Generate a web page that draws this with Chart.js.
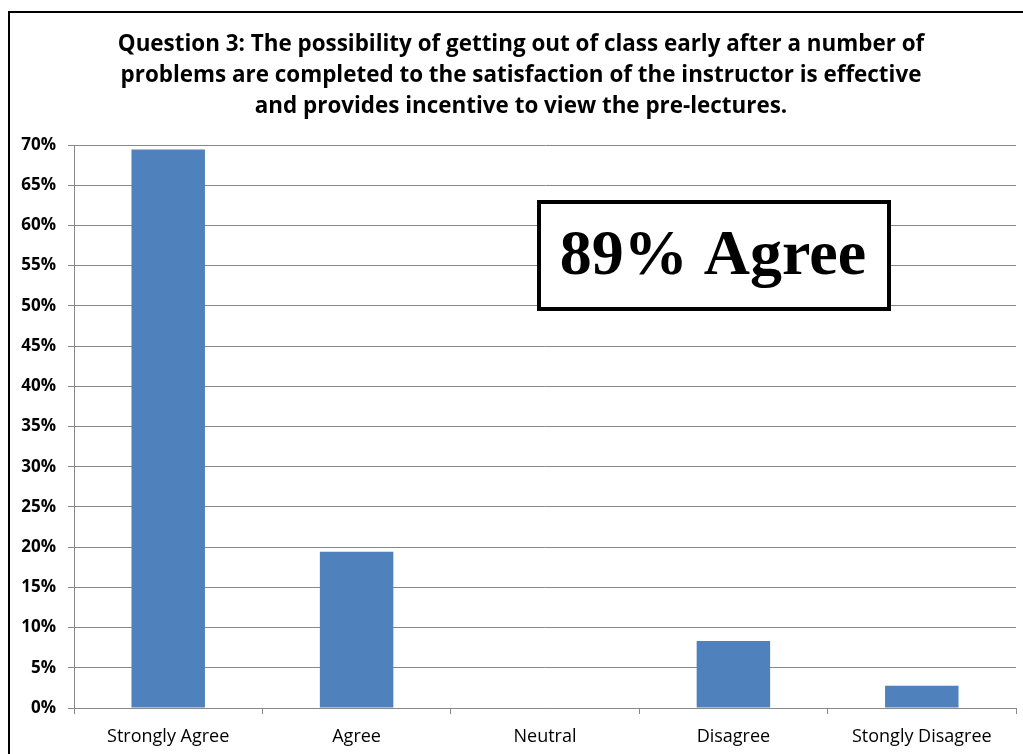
<!DOCTYPE html>
<html>
<head>
<meta charset="utf-8">
<script src="https://cdn.jsdelivr.net/npm/chart.js@4.4.1/dist/chart.umd.min.js"></script>
<style>
html,body{margin:0;padding:0;background:#fff;}
#wrap{width:1023px;height:754px;position:relative;}
</style>
</head>
<body>
<div id="wrap"><canvas id="c" width="1023" height="754"></canvas></div>
<script>
const categories = ["Strongly Agree", "Agree", "Neutral", "Disagree", "Stongly Disagree"];
const percentValues = [69.44, 19.44, 0, 8.33, 2.78];
const titleLines = [
  "Question 3: The possibility of getting out of class early after a number of",
  "problems are completed to the satisfaction of the instructor is effective",
  "and provides incentive to view the pre-lectures."
];
const calloutText = "89% Agree";
const FONT = '"Open Sans", Lato, sans-serif';

const decorPlugin = {
  id: 'decor',
  beforeDraw(chart) {
    const ctx = chart.ctx;
    ctx.save();
    ctx.fillStyle = '#fff';
    ctx.fillRect(0, 0, chart.width, chart.height);
    ctx.strokeStyle = '#000';
    ctx.lineWidth = 2;
    ctx.strokeRect(9, 12, chart.width + 20, chart.height + 20);
    ctx.restore();
  },
  afterDraw(chart) {
    const ctx = chart.ctx;
    ctx.save();
    // title
    let size = 22;
    ctx.font = 'bold ' + size + 'px ' + FONT;
    const w = ctx.measureText(titleLines[0]).width;
    size = size * 807 / w;
    ctx.font = 'bold ' + size.toFixed(2) + 'px ' + FONT;
    ctx.fillStyle = '#000';
    ctx.textAlign = 'center';
    ctx.textBaseline = 'middle';
    const ys = [45, 76, 107];
    titleLines.forEach((t, i) => ctx.fillText(t, 521, ys[i]));
    // callout box
    ctx.fillStyle = '#fff';
    ctx.fillRect(539, 202, 350, 107);
    ctx.strokeStyle = '#000';
    ctx.lineWidth = 4;
    ctx.strokeRect(539, 202, 350, 107);
    ctx.fillStyle = '#000';
    ctx.font = 'bold 64px "Liberation Serif", "Times New Roman", serif';
    ctx.fillText(calloutText, 713, 257);
    ctx.restore();
  }
};

new Chart(document.getElementById('c'), {
  type: 'bar',
  data: {
    labels: categories,
    datasets: [{
      data: percentValues,
      backgroundColor: '#4F81BD',
      borderWidth: 0,
      categoryPercentage: 1,
      barPercentage: 0.39
    }]
  },
  plugins: [decorPlugin],
  options: {
    responsive: false,
    animation: false,
    devicePixelRatio: 1,
    layout: { padding: { left: 10, right: 7, top: 145, bottom: 0 } },
    plugins: {
      legend: { display: false },
      tooltip: { enabled: false },
      title: { display: false }
    },
    scales: {
      x: {
        grid: { display: true, drawOnChartArea: false, drawTicks: true, tickLength: 6, color: '#888', offset: true },
        border: { display: true, color: '#888', width: 1 },
        ticks: { color: '#000', font: { family: FONT, size: 18 }, padding: 12, maxRotation: 0, autoSkip: false },
        afterFit(scale) { scale.height = 46; }
      },
      y: {
        min: 0,
        max: 70,
        grid: { color: '#888', tickLength: 6, drawTicks: true },
        border: { display: true, color: '#888', width: 1 },
        ticks: {
          stepSize: 5,
          color: '#000',
          padding: 12,
          font: { family: FONT, size: 17, weight: 'bold' },
          callback: v => v + '%'
        },
        afterFit(scale) { scale.width = 64; }
      }
    }
  }
});
</script>
</body>
</html>
